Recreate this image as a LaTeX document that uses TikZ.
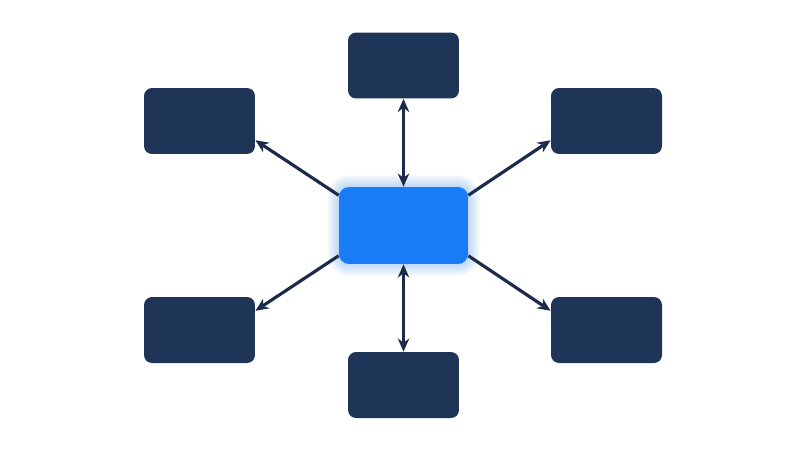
\documentclass[tikz,border=0pt]{standalone}
\usetikzlibrary{arrows.meta}
\definecolor{navy}{HTML}{1F3558}
\definecolor{hubblue}{HTML}{1A7BF6}
\definecolor{linknavy}{HTML}{1C2B4A}
\begin{document}
\begin{tikzpicture}[x = 0.02cm, y = -0.02cm,
    leaf/.style = {draw = none, fill = navy, rounded corners = 0.16cm,
                   minimum width = 2.22cm, minimum height = 1.32cm},
    hub/.style  = {draw = none, fill = hubblue, rounded corners = 0.2cm,
                   minimum width = 2.58cm, minimum height = 1.54cm},
    link/.style = {draw = linknavy, line width = 1.8pt,
                   -{Stealth[length=7.5pt, width=6.5pt]}},
    twoway/.style = {link, {Stealth[length=7.5pt, width=6.5pt]}-{Stealth[length=7.5pt, width=6.5pt]}}]

    \def \cx {403.5};
    \def \cy {225.5};

    \fill[white] (0, 0) rectangle (800, 450);
    \useasboundingbox (0, 0) rectangle (800, 450);

    % soft glow round the hub
    \foreach \g in {1, ..., 12}
        \fill [hubblue, opacity = 0.025, rounded corners = 0.2cm + \g*0.02cm]
            (\cx - 64.5 - \g, \cy - 38.5 - \g) rectangle (\cx + 64.5 + \g, \cy + 38.5 + \g);

    \node[hub] (hub) at (\cx, \cy) {};

    \foreach \n/\x/\y in {top/403.5/65.5, bottom/403.5/385,
                          nw/199.5/121, ne/606.5/121,
                          sw/199.5/330, se/606.5/330}
        \node[leaf] (\n) at (\x, \y) {};

    \draw [twoway] (hub.north) -- (top.south);
    \draw [twoway] (hub.south) -- (bottom.north);

    \draw [link] (hub.155) -- (nw.-19);
    \draw [link] (hub.25) -- (ne.-161);
    \draw [link] (hub.205) -- (sw.19);
    \draw [link] (hub.-25) -- (se.161);

\end{tikzpicture}
\end{document}
